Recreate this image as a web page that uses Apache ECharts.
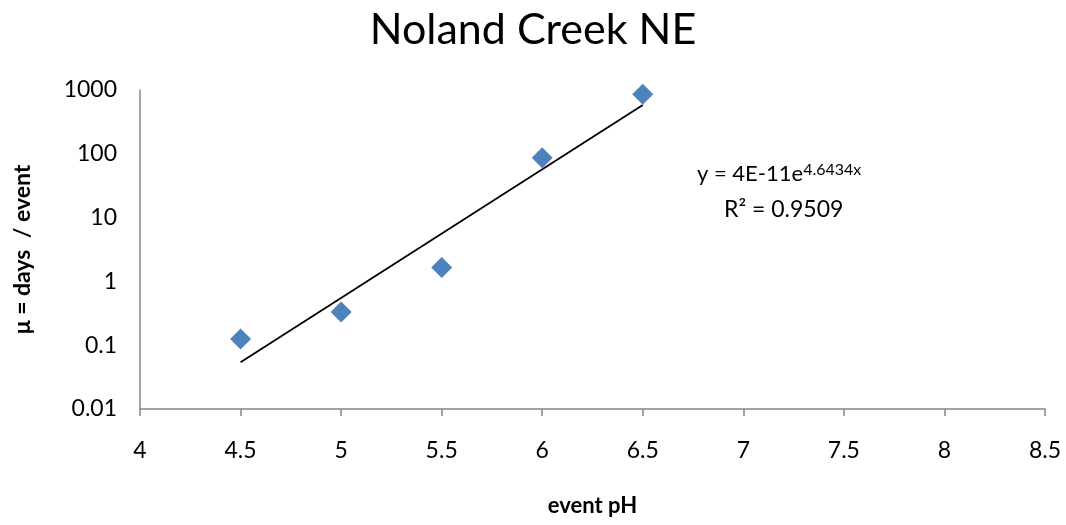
<!DOCTYPE html>
<html>
<head>
<meta charset="utf-8">
<script src="https://cdn.jsdelivr.net/npm/echarts@6/dist/echarts.min.js"></script>
<style>html,body{margin:0;padding:0;background:#fff}#c{width:1066px;height:525px}</style>
</head>
<body>
<div id="c"></div>
<script>
const titleText = "Noland Creek NE";
const xName = "event pH";
const yName = "μ = days  / event";
const phValues = [4.5, 5, 5.5, 6, 6.5];
const daysPerEvent = [0.125, 0.33, 1.65, 87, 855];
const trendX = [4.5, 6.5];
const trendY = [0.054, 582];
const xTicks = [4, 4.5, 5, 5.5, 6, 6.5, 7, 7.5, 8, 8.5];
const yTicks = [0.01, 0.1, 1, 10, 100, 1000];

const font = "Lato";
const chart = echarts.init(document.getElementById('c'), null, {renderer: 'canvas'});
chart.setOption({
  animation: false,
  backgroundColor: '#fff',
  title: {
    text: titleText, left: 'center', top: 4,
    textStyle: {fontFamily: font, fontSize: 43, fontWeight: 'normal', color: '#000'}
  },
  grid: {left: 140, right: 21, top: 90, bottom: 116, containLabel: false},
  xAxis: {
    type: 'value', min: 4, max: 8.5, interval: 0.5,
    name: xName, nameLocation: 'middle', nameGap: 86,
    nameTextStyle: {fontFamily: font, fontSize: 22, fontWeight: 'bold', color: '#000'},
    axisLine: {lineStyle: {color: '#868686', width: 1.5}},
    axisTick: {show: true, inside: false, length: 7, lineStyle: {color: '#868686', width: 1.5}},
    axisLabel: {fontFamily: font, fontSize: 23, color: '#000', margin: 30,
      formatter: v => { const t = xTicks.find(a => Math.abs(a - v) < 1e-9); return t === undefined ? '' : String(t); }},
    splitLine: {show: false}
  },
  yAxis: {
    type: 'log', logBase: 10, min: 0.01, max: 1000,
    name: yName, nameLocation: 'middle', nameGap: 106, nameRotate: 90,
    nameTextStyle: {fontFamily: font, fontSize: 23, fontWeight: 'bold', color: '#000'},
    axisLine: {show: true, lineStyle: {color: '#868686', width: 1.5}},
    axisTick: {show: false},
    axisLabel: {fontFamily: font, fontSize: 23, color: '#000', margin: 23,
      formatter: v => { const t = yTicks.find(a => Math.abs(a - v) / a < 1e-6); return t === undefined ? '' : String(t); }},
    splitLine: {show: false}
  },
  graphic: [
    {type: 'text', left: 697, top: 162, style: {
      rich: {n: {fontFamily: font, fontSize: 22, fill: '#000'}, s: {fontFamily: font, fontSize: 16, fill: '#000', verticalAlign: 'top', padding: [0,0,8,0]}},
      text: '{n|y = 4E-11e}{s|4.6434x}'}},
    {type: 'text', left: 724, top: 198, style: {fontFamily: font, fontSize: 23, fill: '#000', text: 'R² = 0.9509'}}
  ],
  series: [
    {
      type: 'line', data: trendX.map((x, i) => [x, trendY[i]]), symbol: 'none',
      lineStyle: {color: '#000', width: 1.8}, z: 2
    },
    {
      type: 'scatter', data: phValues.map((x, i) => [x, daysPerEvent[i]]),
      symbol: 'diamond', symbolSize: [21, 21],
      itemStyle: {color: '#4F81BD', opacity: 1}, z: 3
    }
  ]
});
</script>
</body>
</html>
